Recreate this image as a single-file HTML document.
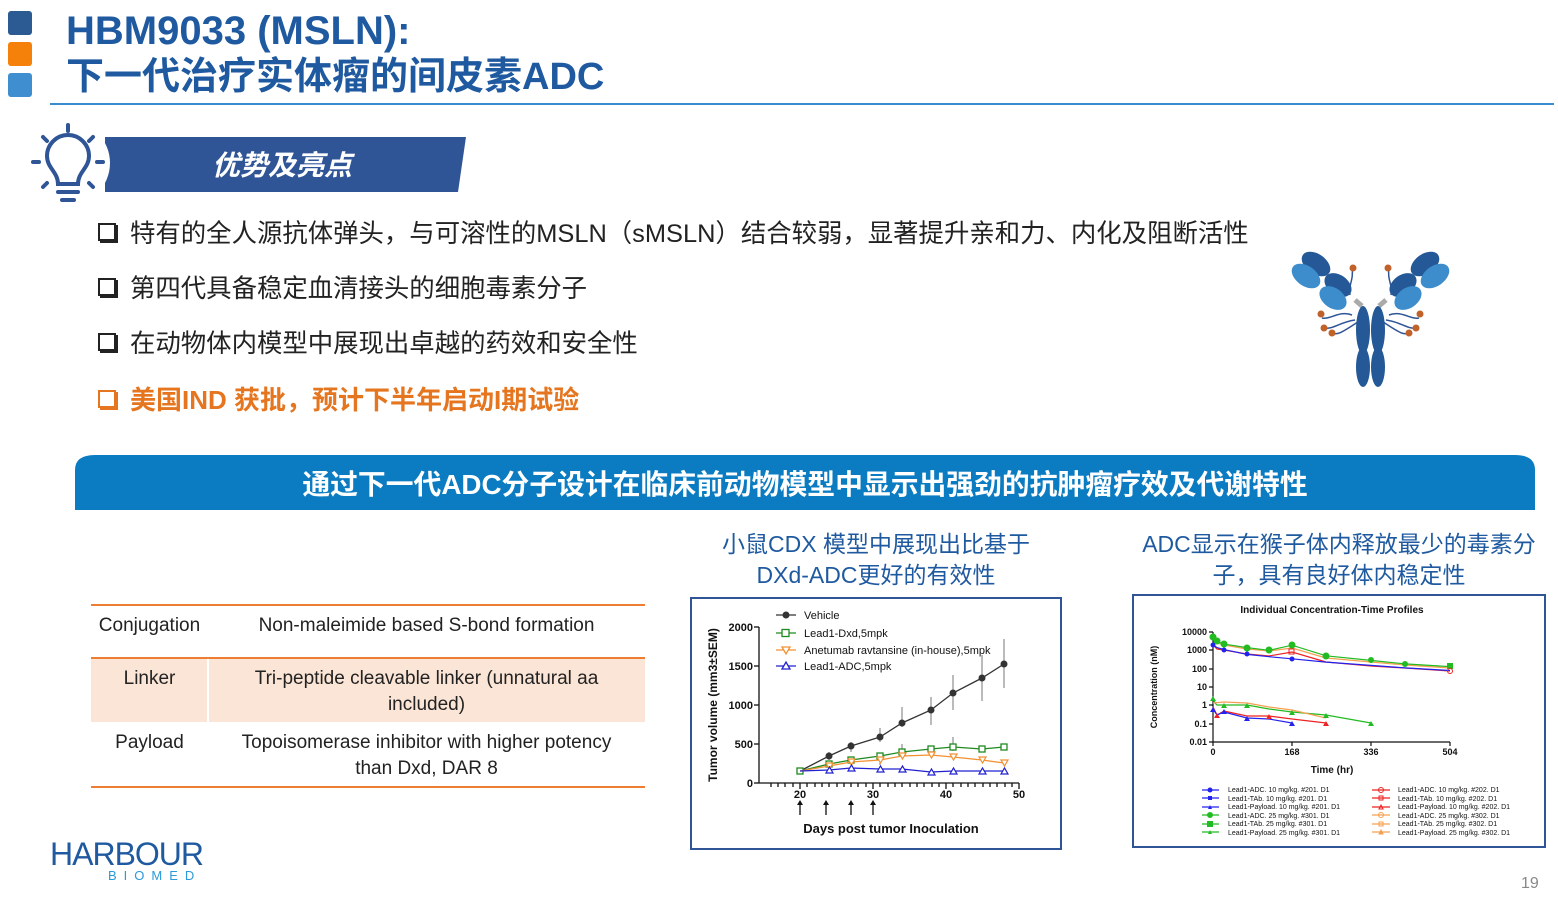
<!DOCTYPE html>
<html><head><meta charset="utf-8"><style>
body{margin:0;width:1558px;height:900px;overflow:hidden;background:#fff;font-family:"Liberation Sans","Noto Sans CJK SC",sans-serif;position:relative}
.a{position:absolute;white-space:nowrap}
.t{font-weight:bold;color:#1f5aa0;line-height:44px}
.b{font-size:25.4px;color:#222;left:98px}
.b span{display:inline-block;width:14px;height:14px;border:2px solid #222;box-shadow:2px 2px 0 #222;margin-right:14px;vertical-align:1px}
.tb{font-size:19px;color:#222;text-align:center;line-height:26px;position:absolute}
.ct{color:#1f5aa0;font-size:23px;text-align:center;line-height:31px;position:absolute}
</style></head><body>
<div class="a" style="left:8px;top:11px;width:24px;height:24px;background:#2c5a93;border-radius:3px"></div>
<div class="a" style="left:8px;top:42px;width:24px;height:24px;background:#f5800a;border-radius:3px"></div>
<div class="a" style="left:8px;top:73px;width:24px;height:24px;background:#3f8fd0;border-radius:3px"></div>
<div class="a t" style="left:66px;top:9px;font-size:40px">HBM9033 (MSLN):</div>
<div class="a t" style="left:66px;top:55px;font-size:38px">下一代治疗实体瘤的间皮素ADC</div>
<div class="a" style="left:50px;top:103px;width:1504px;height:2px;background:#3a8cd0"></div>

<svg class="a" style="left:0;top:0" width="1558" height="900">
<polygon points="105,137 466,137 458,192 105,192" fill="#2f5597"/>
<circle cx="68" cy="163" r="42" fill="#fff"/>
<g stroke="#2f5597" stroke-width="4" fill="none" stroke-linecap="round">
<path d="M58,184 C58,172 47,168 47,156 A21,21 0 1 1 89,156 C89,168 78,172 78,184 Z"/>
<line x1="58" y1="192" x2="78" y2="192"/><line x1="62" y1="200" x2="74" y2="200"/>
<line x1="68" y1="125" x2="68" y2="131"/><line x1="33" y1="162" x2="39" y2="162"/><line x1="97" y1="162" x2="103" y2="162"/>
<line x1="43" y1="137" x2="47" y2="141"/><line x1="93" y1="137" x2="89" y2="141"/><line x1="43" y1="187" x2="47" y2="183"/><line x1="93" y1="187" x2="89" y2="183"/>
</g>
<text x="282" y="175" fill="#fff" font-size="28" font-weight="bold" font-style="italic" text-anchor="middle" font-family="Liberation Sans,Noto Sans CJK SC,sans-serif">优势及亮点</text>
<g>
<g stroke="#2f5597" stroke-width="1.5" fill="none">
<path d="M1352,315 C1340,310 1330,320 1322,318"/><path d="M1355,320 C1340,322 1332,330 1324,328"/><path d="M1358,322 C1345,330 1338,336 1332,333"/>
<path d="M1389,315 C1401,310 1411,320 1419,318"/><path d="M1386,320 C1401,322 1409,330 1417,328"/><path d="M1383,322 C1396,330 1403,336 1409,333"/>
<path d="M1350,295 C1348,285 1354,280 1352,268"/><path d="M1391,295 C1393,285 1387,280 1389,268"/>
</g>
<g fill="#c0622a"><circle cx="1321" cy="314" r="3.5"/><circle cx="1324" cy="328" r="3.5"/><circle cx="1332" cy="333" r="3.5"/><circle cx="1353" cy="268" r="3.5"/>
<circle cx="1420" cy="314" r="3.5"/><circle cx="1416" cy="328" r="3.5"/><circle cx="1409" cy="333" r="3.5"/><circle cx="1388" cy="268" r="3.5"/></g>
<line x1="1355" y1="300" x2="1362" y2="306" stroke="#aaa" stroke-width="5"/><line x1="1386" y1="300" x2="1379" y2="306" stroke="#aaa" stroke-width="5"/>
<g fill="#245896"><ellipse cx="1363" cy="330" rx="7" ry="24"/><ellipse cx="1378" cy="330" rx="7" ry="24"/><ellipse cx="1363" cy="367" rx="7" ry="20"/><ellipse cx="1378" cy="367" rx="7" ry="20"/>
<ellipse cx="1316" cy="264" rx="16" ry="10" transform="rotate(35 1316 264)"/><ellipse cx="1338" cy="285" rx="15" ry="10" transform="rotate(35 1338 285)"/>
<ellipse cx="1425" cy="264" rx="16" ry="10" transform="rotate(-35 1425 264)"/><ellipse cx="1403" cy="285" rx="15" ry="10" transform="rotate(-35 1403 285)"/></g>
<g fill="#3d8dcc"><ellipse cx="1306" cy="276" rx="16" ry="10" transform="rotate(35 1306 276)"/><ellipse cx="1333" cy="298" rx="15" ry="10" transform="rotate(35 1333 298)"/>
<ellipse cx="1435" cy="276" rx="16" ry="10" transform="rotate(-35 1435 276)"/><ellipse cx="1408" cy="298" rx="15" ry="10" transform="rotate(-35 1408 298)"/></g>
</g>
<path d="M75,510 L75,470 Q75,455 95,455 L1515,455 Q1535,455 1535,470 L1535,510 Z" fill="#0b7cc1"/>
<text x="805" y="494" fill="#fff" font-size="27.8" font-weight="bold" text-anchor="middle" font-family="Liberation Sans,Noto Sans CJK SC,sans-serif">通过下一代ADC分子设计在临床前动物模型中显示出强劲的抗肿瘤疗效及代谢特性</text>
<rect x="91" y="659" width="554" height="63" fill="#fbe5d6"/>
<line x1="208" y1="659" x2="208" y2="722" stroke="#fff" stroke-width="2"/>
<line x1="91" y1="605" x2="645" y2="605" stroke="#ed7d31" stroke-width="2"/>
<line x1="91" y1="658" x2="645" y2="658" stroke="#ed7d31" stroke-width="2"/>
<line x1="91" y1="787" x2="645" y2="787" stroke="#ed7d31" stroke-width="2"/>
<rect x="691" y="598" width="370" height="251" fill="#fff" stroke="#2f5597" stroke-width="2"/>
<g font-family="Liberation Sans,sans-serif" font-size="11" fill="#111">
<g stroke="#111" stroke-width="1.3" fill="none">
<line x1="759" y1="627" x2="759" y2="783"/><line x1="759" y1="783" x2="1019" y2="783"/>
<line x1="754" y1="627" x2="759" y2="627"/><line x1="754" y1="666" x2="759" y2="666"/><line x1="754" y1="705" x2="759" y2="705"/><line x1="754" y1="744" x2="759" y2="744"/><line x1="754" y1="783" x2="759" y2="783"/>
<path d="M771,783v4M778,783v4M785,783v4M793,783v4M800,783v6M807,783v4M815,783v4M822,783v4M829,783v4M837,783v4M844,783v4M851,783v4M858,783v4M866,783v4M873,783v6M880,783v4M888,783v4M895,783v4M902,783v4M910,783v4M917,783v4M924,783v4M932,783v4M939,783v4M946,783v6M953,783v4M961,783v4M968,783v4M975,783v4M983,783v4M990,783v4M997,783v4M1005,783v4M1012,783v4M1019,783v6"/>
<path d="M800,815v-12M826,815v-12M851,815v-12M873,815v-12"/>
</g>
<g fill="#111"><path d="M800,800l-3,5h6z M826,800l-3,5h6z M851,800l-3,5h6z M873,800l-3,5h6z"/></g>
<g text-anchor="end" font-weight="bold"><text x="753" y="631">2000</text><text x="753" y="670">1500</text><text x="753" y="709">1000</text><text x="753" y="748">500</text><text x="753" y="787">0</text></g>
<g text-anchor="middle" font-weight="bold"><text x="800" y="798">20</text><text x="873" y="798">30</text><text x="946" y="798">40</text><text x="1019" y="798">50</text></g>
<text x="891" y="833" text-anchor="middle" font-size="13" font-weight="bold">Days post tumor Inoculation</text>
<text transform="translate(717,705) rotate(-90)" text-anchor="middle" font-size="12" font-weight="bold">Tumor volume (mm3±SEM)</text>
<text x="804" y="619">Vehicle</text><text x="804" y="637">Lead1-Dxd,5mpk</text><text x="804" y="654">Anetumab ravtansine (in-house),5mpk</text><text x="804" y="670">Lead1-ADC,5mpk</text>
<g stroke-width="1.3" fill="none">
<line x1="776" y1="615" x2="796" y2="615" stroke="#333"/><circle cx="786" cy="615" r="3.5" fill="#333"/>
<line x1="776" y1="633" x2="796" y2="633" stroke="#1f8a1f"/><rect x="782" y="629.5" width="7" height="7" stroke="#1f8a1f" fill="#fff"/>
<line x1="776" y1="650" x2="796" y2="650" stroke="#f39030"/><path d="M782,647h8l-4,7z" stroke="#f39030" fill="#fff"/>
<line x1="776" y1="666" x2="796" y2="666" stroke="#2020d0"/><path d="M782,669h8l-4,-7z" stroke="#2020d0" fill="#fff"/>
</g>
<g stroke="#777" stroke-width="1"><path d="M880,728v14M902,707v20M931,697v28M953,675v35M982,655v46M1004,639v49M829,752v8M851,742v10M880,755v10M953,737v14M902,744v12"/></g>
<polyline points="800,771 829,756 851,746 880,737 902,723 931,710 953,693 982,678 1004,664" stroke="#333" stroke-width="1.3" fill="none"/>
<g fill="#333"><circle cx="800" cy="771" r="3.5"/><circle cx="829" cy="756" r="3.5"/><circle cx="851" cy="746" r="3.5"/><circle cx="880" cy="737" r="3.5"/><circle cx="902" cy="723" r="3.5"/><circle cx="931" cy="710" r="3.5"/><circle cx="953" cy="693" r="3.5"/><circle cx="982" cy="678" r="3.5"/><circle cx="1004" cy="664" r="3.5"/></g>
<polyline points="800,771 829,764 851,760 880,756 902,752 931,749 953,747 982,749 1004,747" stroke="#1f8a1f" stroke-width="1.3" fill="none"/>
<g stroke="#1f8a1f" fill="#fff" stroke-width="1.3"><rect x="797" y="768" width="6" height="6"/><rect x="826" y="761" width="6" height="6"/><rect x="848" y="757" width="6" height="6"/><rect x="877" y="753" width="6" height="6"/><rect x="899" y="749" width="6" height="6"/><rect x="928" y="746" width="6" height="6"/><rect x="950" y="744" width="6" height="6"/><rect x="979" y="746" width="6" height="6"/><rect x="1001" y="744" width="6" height="6"/></g>
<polyline points="800,771 829,766 851,762 880,760 902,756 931,755 953,757 982,760 1004,763" stroke="#f39030" stroke-width="1.3" fill="none"/>
<g stroke="#f39030" fill="#fff" stroke-width="1.2"><path d="M826,763h7l-3.5,6z M848,759h7l-3.5,6z M877,757h7l-3.5,6z M899,753h7l-3.5,6z M928,752h7l-3.5,6z M950,754h7l-3.5,6z M979,757h7l-3.5,6z M1001,760h7l-3.5,6z"/></g>
<polyline points="800,771 829,770 851,768 880,769 902,769 931,772 953,771 982,771 1004,771" stroke="#2020d0" stroke-width="1.3" fill="none"/>
<g stroke="#2020d0" fill="#fff" stroke-width="1.2"><path d="M826,773h7l-3.5,-6z M848,771h7l-3.5,-6z M877,772h7l-3.5,-6z M899,772h7l-3.5,-6z M928,775h7l-3.5,-6z M950,774h7l-3.5,-6z M979,774h7l-3.5,-6z M1001,774h7l-3.5,-6z"/></g>
</g>
<rect x="1133" y="595" width="412" height="252" fill="#fff" stroke="#2f5597" stroke-width="2"/>
<g font-family="Liberation Sans,sans-serif" fill="#111">
<text x="1332" y="613" text-anchor="middle" font-size="10" font-weight="bold">Individual Concentration-Time Profiles</text>
<g stroke="#111" stroke-width="1.2"><line x1="1213" y1="632" x2="1213" y2="742"/><line x1="1213" y1="742" x2="1450" y2="742"/>
<path d="M1209,632h4M1209,650h4M1209,669h4M1209,687h4M1209,705h4M1209,724h4M1209,742h4M1213,742v4M1292,742v4M1371,742v4M1450,742v4"/></g>
<g font-size="9" text-anchor="end" font-weight="bold"><text x="1207" y="635">10000</text><text x="1207" y="653">1000</text><text x="1207" y="672">100</text><text x="1207" y="690">10</text><text x="1207" y="708">1</text><text x="1207" y="727">0.1</text><text x="1207" y="745">0.01</text></g>
<g font-size="9" text-anchor="middle" font-weight="bold"><text x="1213" y="755">0</text><text x="1292" y="755">168</text><text x="1371" y="755">336</text><text x="1450" y="755">504</text></g>
<text x="1332" y="773" text-anchor="middle" font-size="10" font-weight="bold">Time (hr)</text>
<text transform="translate(1157,687) rotate(-90)" text-anchor="middle" font-size="9" font-weight="bold">Concentration (nM)</text>
<g fill="none" stroke-width="1.2">
<polyline stroke="#f5a050" points="1213,639 1215,641 1217,643 1224,645 1247,649 1269,651 1292,648 1326,658 1371,662 1405,665 1450,668"/>
<polyline stroke="#22bb22" points="1213,637.5 1215,639.3 1217,641.5 1224,644.1 1247,647.6 1269,650.3 1292,645.2 1326,655.8 1371,660.4 1405,663.9 1450,666.6"/>
<polyline stroke="#ee2222" points="1213,645 1217,649 1224,650 1247,654 1269,656 1292,652 1326,662 1371,666 1405,668 1450,671"/>
<polyline stroke="#2222ee" points="1213,644.8 1217,647.6 1224,649.6 1247,654.4 1269,656.7 1292,658.8 1326,662.1 1371,665.4 1405,667.9 1450,670.5"/>
<polyline stroke="#22bb22" points="1213,698 1215,703 1217,705 1224,705 1247,705 1269,709 1292,712 1326,715 1371,723"/>
<polyline stroke="#f5a050" points="1213,703 1224,702 1247,703 1269,707 1292,710 1326,718"/>
<polyline stroke="#ee2222" points="1213,707 1217,715 1224,711 1247,716 1269,716 1292,719 1326,723"/>
<polyline stroke="#2222ee" points="1213,709 1217,715 1224,712 1247,718 1269,719 1292,723"/>
</g>
<g fill="#22bb22"><circle cx="1213" cy="637" r="3.5"/><circle cx="1217" cy="641" r="3.5"/><circle cx="1224" cy="644" r="3.5"/><circle cx="1247" cy="648" r="3.5"/><circle cx="1269" cy="650" r="3.5"/><circle cx="1292" cy="645" r="3.5"/><circle cx="1326" cy="656" r="3.5"/><circle cx="1371" cy="660" r="3"/><circle cx="1405" cy="664" r="3"/><rect x="1447" y="663" width="6" height="6"/>
<path d="M1210,701l3,-5l3,5z M1221,708l3,-5l3,5z M1244,708l3,-5l3,5z M1289,715l3,-5l3,5z M1323,718l3,-5l3,5z M1368,726l3,-5l3,5z"/></g>
<g fill="#2222ee"><circle cx="1213" cy="645" r="2.5"/><circle cx="1224" cy="650" r="2.5"/><circle cx="1247" cy="654" r="2.5"/><circle cx="1292" cy="659" r="2.5"/><path d="M1210,712l3,-5l3,5z M1221,714l3,-5l3,5z M1244,721l3,-5l3,5z M1289,726l3,-5l3,5z"/></g>
<g fill="#ee2222"><path d="M1214,718l3,-5l3,5z M1266,719l3,-5l3,5z M1323,726l3,-5l3,5z"/></g>
<g fill="none" stroke="#ee2222"><circle cx="1450" cy="671" r="2.5"/><rect x="1289" y="649" width="5" height="5"/></g>
<g font-size="7">
<text x="1228" y="792">Lead1-ADC. 10 mg/kg. #201. D1</text><text x="1228" y="801">Lead1-TAb. 10 mg/kg. #201. D1</text><text x="1228" y="809">Lead1-Payload. 10 mg/kg. #201. D1</text><text x="1228" y="818">Lead1-ADC. 25 mg/kg. #301. D1</text><text x="1228" y="826">Lead1-TAb. 25 mg/kg. #301. D1</text><text x="1228" y="835">Lead1-Payload. 25 mg/kg. #301. D1</text>
<text x="1398" y="792">Lead1-ADC. 10 mg/kg. #202. D1</text><text x="1398" y="801">Lead1-TAb. 10 mg/kg. #202. D1</text><text x="1398" y="809">Lead1-Payload. 10 mg/kg. #202. D1</text><text x="1398" y="818">Lead1-ADC. 25 mg/kg. #302. D1</text><text x="1398" y="826">Lead1-TAb. 25 mg/kg. #302. D1</text><text x="1398" y="835">Lead1-Payload. 25 mg/kg. #302. D1</text>
</g>
<g stroke-width="1.2"><path stroke="#2222ee" d="M1202,790h17M1202,798h17M1202,807h17"/><path stroke="#22bb22" d="M1202,815h17M1202,824h17M1202,832h17"/>
<path stroke="#ee2222" d="M1372,790h18M1372,798h18M1372,807h18"/><path stroke="#f5a050" d="M1372,815h18M1372,824h18M1372,832h18"/></g>
<g fill="#2222ee"><circle cx="1210" cy="790" r="2.5"/><rect x="1208" y="796" width="4" height="4"/><path d="M1208,809l2,-4l2,4z"/></g>
<g fill="#22bb22"><circle cx="1210" cy="815" r="3"/><rect x="1207" y="821" width="6" height="6"/><path d="M1208,834l2,-4l2,4z"/></g>
<g fill="none" stroke="#ee2222"><circle cx="1381" cy="790" r="2.5"/><rect x="1379" y="796" width="4" height="4"/><path d="M1379,809l2,-4l2,4z"/></g>
<g fill="none" stroke="#f5a050"><circle cx="1381" cy="815" r="2.5"/><rect x="1379" y="822" width="4" height="4"/><path d="M1379,834l2,-4l2,4z" fill="#f5a050"/></g>
</g>
</svg>

<div class="a b" style="top:214px"><span></span>特有的全人源抗体弹头，与可溶性的MSLN（sMSLN）结合较弱，显著提升亲和力、内化及阻断活性</div>
<div class="a b" style="top:269px"><span></span>第四代具备稳定血清接头的细胞毒素分子</div>
<div class="a b" style="top:324px"><span></span>在动物体内模型中展现出卓越的药效和安全性</div>
<div class="a b" style="top:380px;color:#e5761f;font-weight:bold;font-size:26px"><span style="border-color:#e5761f;box-shadow:2px 2px 0 #e5761f"></span>美国IND 获批，预计下半年启动I期试验</div>

<div class="tb" style="left:91px;top:613px;width:117px">Conjugation</div>
<div class="tb" style="left:208px;top:613px;width:437px">Non-maleimide based S-bond formation</div>
<div class="tb" style="left:91px;top:666px;width:117px">Linker</div>
<div class="tb" style="left:208px;top:666px;width:437px">Tri-peptide cleavable linker (unnatural aa<br>included)</div>
<div class="tb" style="left:91px;top:730px;width:117px">Payload</div>
<div class="tb" style="left:208px;top:730px;width:437px">Topoisomerase inhibitor with higher potency<br>than Dxd, DAR 8</div>

<div class="ct" style="left:676px;top:529px;width:400px">小鼠CDX 模型中展现出比基于<br>DXd-ADC更好的有效性</div>
<div class="ct" style="left:1120px;top:529px;width:438px">ADC显示在猴子体内释放最少的毒素分<br>子，具有良好体内稳定性</div>

<div class="a" style="left:50px;top:836px;font-size:32px;color:#1f5aa0;letter-spacing:-1px;line-height:36px">HARBOUR</div>
<div class="a" style="left:108px;top:868px;font-size:13px;color:#2a9ad8;letter-spacing:7px">BIOMED</div>
<div class="a" style="left:1521px;top:875px;font-size:16px;color:#888">19</div>
</body></html>
